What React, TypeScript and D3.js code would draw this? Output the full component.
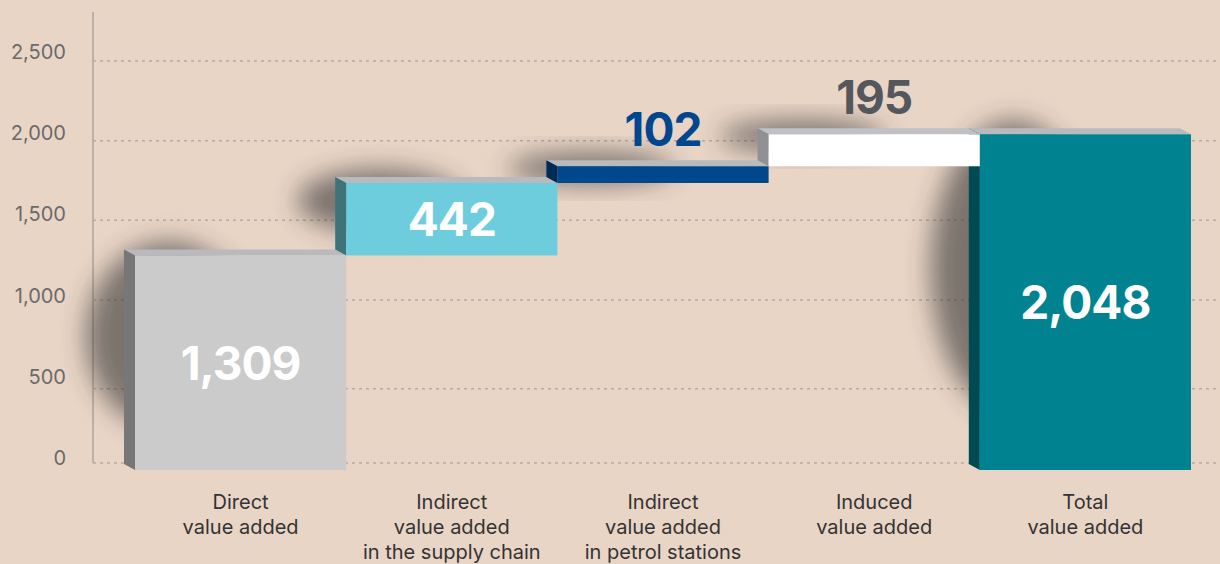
import React from "react";
import * as d3 from "d3";

const categories = [
  ["Direct", "value added"],
  ["Indirect", "value added", "in the supply chain"],
  ["Indirect", "value added", "in petrol stations"],
  ["Induced", "value added"],
  ["Total", "value added"],
];
const values = [1309, 442, 102, 195, 2048];
const isTotal = [false, false, false, false, true];
const tickValues = [0, 500, 1000, 1500, 2000, 2500];

const frontColors = ["#cbcbcb", "#6dcddc", "#00478e", "#ffffff", "#008291"];
const sideColors = ["#777777", "#3e737a", "#002b55", "#909194", "#004a53"];
const topColors = ["#b8babd", "#b8babd", "#b8babd", "#bfc1c4", "#b8babd"];
const labelInside = [true, true, false, false, true];
const labelColors = ["#ffffff", "#ffffff", "#00478e", "#54575c", "#ffffff"];

const W = 1220;
const H = 564;
const DX = 11;
const DY = 6;

export default function App() {
  const x = d3
    .scaleBand<number>()
    .domain(values.map((_, i) => i))
    .range([135, 1191])
    .paddingInner(0)
    .paddingOuter(0);
  const yBar = d3.scaleLinear().domain([0, 2500]).range([470, 60.2]);
  const yGrid = d3
    .scaleLinear()
    .domain([0, 500, 1000, 2500])
    .range([463, 388.7, 300, 61]);
  const yLabel = d3.scaleLinear().domain([0, 2500]).range([465, 59]);
  const fmt = d3.format(",");

  let cum = 0;
  const bars = values.map((v, i) => {
    const start = isTotal[i] ? 0 : cum;
    const end = isTotal[i] ? v : cum + v;
    if (!isTotal[i]) cum += v;
    const x0 = x(i)!;
    const x1 = x0 + x.bandwidth();
    const yTop = yBar(end);
    const yBot = yBar(start);
    return { i, v, x0, x1, yTop, yBot };
  });

  const order = [0, 1, 2, 4, 3];
  const font = "Inter, 'Noto Sans', sans-serif";

  return (
    <svg
      width={W}
      height={H}
      style={{ position: "absolute", left: 0, top: 0, display: "block" }}
    >
      <defs>
        <filter id="shadowBlur" x="-50%" y="-50%" width="200%" height="200%">
          <feGaussianBlur stdDeviation="13" />
        </filter>
      </defs>
      <rect x={0} y={0} width={W} height={H} fill="#e9d5c6" />
      {tickValues.map((t) => (
        <g key={t}>
          <line
            x1={93}
            x2={W}
            y1={yGrid(t)}
            y2={yGrid(t)}
            stroke="#b5aba1"
            strokeWidth={1.5}
            strokeDasharray="3 4"
          />
          <text
            x={66}
            y={yLabel(t)}
            textAnchor="end"
            fontFamily={font}
            fontSize={20}
            fill="#6a6a6a"
          >
            {fmt(t)}
          </text>
        </g>
      ))}
      <line x1={93} x2={93} y1={12} y2={463} stroke="#bbb1a7" strokeWidth={2} />
      {bars.map((b) => {
        const h = b.yBot - b.yTop;
        const w = b.x1 - b.x0;
        const left = b.x0 - DX - 38;
        const right = b.x0 + w * 0.55;
        const top = b.yTop - DY - 8;
        const bottom = Math.max(b.yBot - h * 0.12 - 14, top + 32);
        return (
          <ellipse
            key={"s" + b.i}
            cx={(left + right) / 2}
            cy={(top + bottom) / 2}
            rx={(right - left) / 2}
            ry={(bottom - top) / 2}
            fill="#333333"
            opacity={0.6}
            filter="url(#shadowBlur)"
          />
        );
      })}
      {order.map((k) => {
        const b = bars[k];
        const top = `M${b.x0 - DX},${b.yTop - DY}L${b.x1 - DX},${b.yTop - DY}L${b.x1},${b.yTop}L${b.x0},${b.yTop}Z`;
        const side = `M${b.x0 - DX},${b.yTop - DY}L${b.x0},${b.yTop}L${b.x0},${b.yBot}L${b.x0 - DX},${b.yBot - DY}Z`;
        return (
          <g key={"b" + k}>
            <path d={top} fill={topColors[k]} />
            <path d={side} fill={sideColors[k]} />
            <rect
              x={b.x0}
              y={b.yTop}
              width={b.x1 - b.x0}
              height={b.yBot - b.yTop}
              fill={frontColors[k]}
            />
          </g>
        );
      })}
      {bars.map((b) => {
        const cxl = (b.x0 + b.x1) / 2;
        const ly = labelInside[b.i]
          ? (b.yTop + b.yBot) / 2 + 17
          : b.yTop - DY - 14;
        return (
          <text
            key={"v" + b.i}
            x={cxl}
            y={ly}
            textAnchor="middle"
            fontFamily={font}
            fontWeight={700}
            fontSize={46}
            letterSpacing={-1}
            fill={labelColors[b.i]}
          >
            {fmt(b.v)}
          </text>
        );
      })}
      {categories.map((lines, i) => (
        <text
          key={"c" + i}
          x={x(i)! + x.bandwidth() / 2}
          y={509}
          textAnchor="middle"
          fontFamily={font}
          fontSize={20}
          fill="#333333"
        >
          {lines.map((l, j) => (
            <tspan key={j} x={x(i)! + x.bandwidth() / 2} dy={j === 0 ? 0 : 25}>
              {l}
            </tspan>
          ))}
        </text>
      ))}
    </svg>
  );
}
